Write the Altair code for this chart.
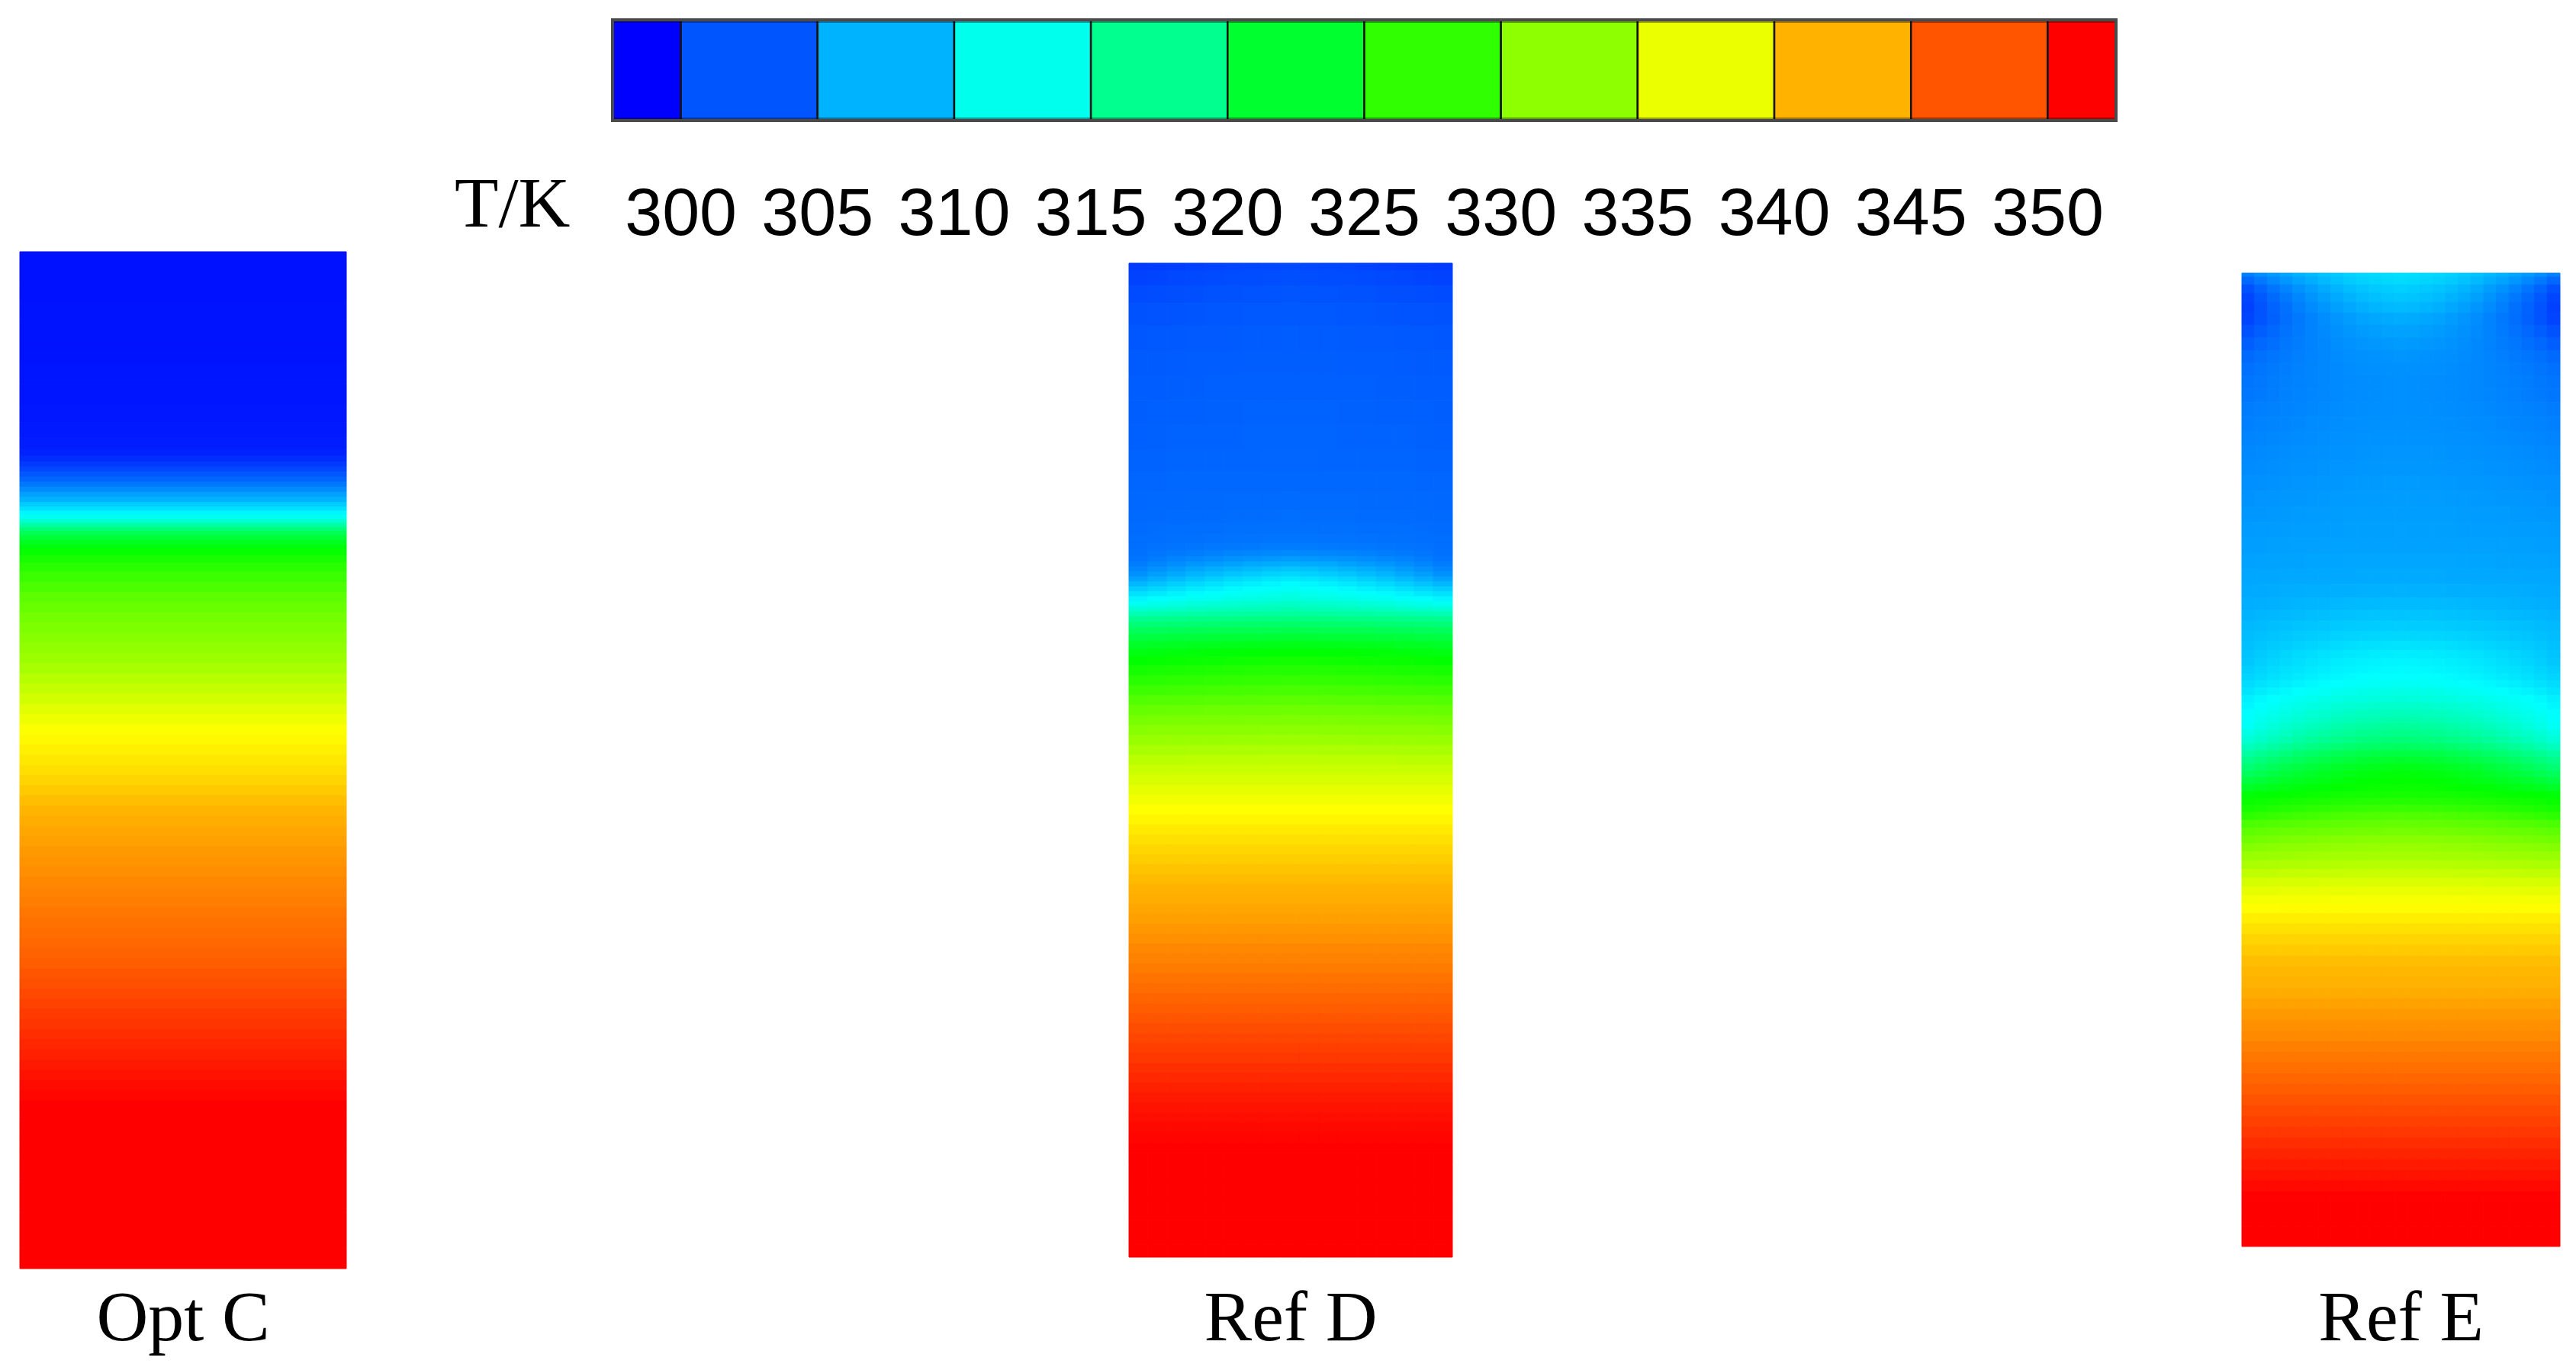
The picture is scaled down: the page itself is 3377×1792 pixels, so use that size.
import altair as alt
import pandas as pd

# ---------------- data ----------------
LEVELS = [300, 305, 310, 315, 320, 325, 330, 335, 340, 345, 350]
BAND_LO = [297.5, 300, 305, 310, 315, 320, 325, 330, 335, 340, 345, 350]
BAND_HI = [300, 305, 310, 315, 320, 325, 330, 335, 340, 345, 350, 352.5]
BAND_T = [297.5, 302.5, 307.5, 312.5, 317.5, 322.5, 327.5, 332.5, 337.5, 342.5, 347.5, 352.5]

COLOR_DOMAIN = [298, 311.5, 325, 338.5, 352]
COLOR_RANGE = ["#0000ff", "#00ffff", "#00ff00", "#ffff00", "#ff0000"]

PANEL_NAMES = ["Opt C", "Ref D", "Ref E"]

# Opt C : vertical temperature profile (fraction of height from top, T in K)
OPT_C_V = [0.000, 0.020, 0.040, 0.060, 0.080, 0.100, 0.120, 0.140, 0.160, 0.175,
           0.190, 0.198, 0.204, 0.209, 0.214, 0.219, 0.224, 0.229, 0.234, 0.239,
           0.244, 0.249, 0.253, 0.257, 0.261, 0.265, 0.269, 0.273, 0.277, 0.281,
           0.286, 0.291, 0.296, 0.302, 0.310, 0.320, 0.330, 0.340, 0.350, 0.360,
           0.370, 0.380, 0.390, 0.400, 0.410, 0.420, 0.430, 0.440, 0.450, 0.460,
           0.470, 0.480, 0.490, 0.500, 0.510, 0.520, 0.530, 0.540, 0.550, 0.560,
           0.570, 0.580, 0.590, 0.600, 0.610, 0.620, 0.630, 0.640, 0.650, 0.660,
           0.670, 0.680, 0.690, 0.700, 0.710, 0.720, 0.730, 0.740, 0.750, 0.760,
           0.770, 0.780, 0.790, 0.800, 0.810, 0.820, 0.830, 0.840, 0.850, 0.860,
           0.870, 0.880, 0.900, 0.930, 0.960, 1.000]
OPT_C_T = [298.9, 298.9, 298.9, 299.0, 299.0, 299.0, 299.1, 299.1, 299.2, 299.3,
           299.5, 299.8, 300.4, 301.0, 301.8, 302.6, 303.3, 304.3, 305.4, 306.5,
           307.5, 308.8, 309.9, 311.0, 312.3, 313.9, 316.3, 318.6, 320.4, 321.9,
           323.3, 324.5, 325.4, 326.2, 327.2, 328.1, 329.0, 329.9, 330.5, 331.1,
           331.6, 332.2, 332.7, 333.2, 333.9, 334.6, 335.3, 336.1, 336.9, 337.6,
           338.3, 338.8, 339.3, 339.7, 340.2, 340.7, 341.3, 341.9, 342.4, 342.8,
           343.2, 343.5, 343.9, 344.2, 344.5, 344.8, 345.1, 345.4, 345.7, 346.0,
           346.3, 346.5, 346.8, 347.1, 347.5, 347.8, 348.2, 348.5, 348.9, 349.2,
           349.6, 350.0, 350.3, 350.7, 351.0, 351.4, 351.7, 352.0, 352.3, 352.5,
           352.7, 352.9, 353.1, 353.3, 353.4, 353.5]
OPT_C_WEIGHT = [0.0]

# Ref D : centre-line and side-wall profiles
REF_D_V = [0.000, 0.015, 0.030, 0.050, 0.075, 0.100, 0.125, 0.150, 0.175, 0.200,
           0.220, 0.240, 0.255, 0.268, 0.278, 0.286, 0.292, 0.298, 0.303, 0.308,
           0.313, 0.318, 0.323, 0.328, 0.333, 0.338, 0.343, 0.348, 0.353, 0.358,
           0.364, 0.370, 0.377, 0.384, 0.392, 0.400, 0.410, 0.420, 0.430, 0.440,
           0.450, 0.460, 0.470, 0.480, 0.490, 0.500, 0.510, 0.520, 0.530, 0.540,
           0.550, 0.560, 0.570, 0.580, 0.590, 0.600, 0.610, 0.620, 0.630, 0.640,
           0.650, 0.660, 0.670, 0.680, 0.690, 0.700, 0.710, 0.720, 0.730, 0.740,
           0.750, 0.760, 0.770, 0.780, 0.790, 0.800, 0.810, 0.820, 0.830, 0.840,
           0.850, 0.860, 0.870, 0.880, 0.890, 0.900, 0.915, 0.930, 0.950, 0.975,
           1.000]
REF_D_T_CENTER = [301.9, 302.2, 302.5, 302.7, 302.9, 303.0, 303.1, 303.2, 303.3, 303.4,
                  303.5, 303.7, 303.8, 304.0, 304.2, 304.6, 305.3, 306.3, 307.3, 308.4,
                  309.4, 310.4, 311.3, 312.0, 312.7, 313.4, 314.4, 315.5, 316.7, 318.2,
                  319.6, 321.0, 322.4, 323.8, 325.0, 326.0, 326.9, 327.8, 328.8, 329.8,
                  330.8, 331.6, 332.4, 333.2, 334.1, 335.0, 335.7, 336.4, 337.1, 337.8,
                  338.5, 339.0, 339.6, 340.1, 340.6, 341.1, 341.6, 342.1, 342.5, 342.8,
                  343.2, 343.6, 344.0, 344.4, 344.8, 345.1, 345.5, 345.9, 346.3, 346.7,
                  347.1, 347.5, 347.9, 348.3, 348.7, 349.1, 349.5, 349.9, 350.3, 350.7,
                  351.0, 351.3, 351.6, 351.8, 352.0, 352.2, 352.4, 352.6, 352.8, 352.9,
                  353.0]
REF_D_T_EDGE = [301.0, 301.5, 301.9, 302.3, 302.6, 302.8, 302.9, 303.0, 303.1, 303.2,
                303.4, 303.5, 303.6, 303.7, 303.8, 303.9, 304.0, 304.2, 304.6, 305.1,
                305.7, 306.6, 307.7, 308.8, 309.9, 311.0, 312.2, 313.8, 315.6, 317.3,
                318.8, 320.2, 321.6, 322.9, 324.1, 325.1, 326.1, 327.1, 328.2, 329.3,
                330.4, 331.3, 332.2, 333.0, 333.9, 334.8, 335.7, 336.4, 337.1, 337.8,
                338.5, 339.0, 339.6, 340.1, 340.6, 341.1, 341.6, 342.1, 342.5, 342.8,
                343.2, 343.6, 344.0, 344.4, 344.8, 345.1, 345.5, 345.9, 346.3, 346.7,
                347.1, 347.5, 347.9, 348.3, 348.7, 349.1, 349.5, 349.9, 350.3, 350.7,
                351.0, 351.3, 351.6, 351.8, 352.0, 352.2, 352.4, 352.6, 352.8, 352.9,
                353.0]
REF_D_WEIGHT = [1.0, 0.82, 0.66, 0.51, 0.38, 0.26, 0.16, 0.07, 0.0,
                0.07, 0.16, 0.26, 0.38, 0.51, 0.66, 0.82, 1.0]

# Ref E : centre-line and side-wall profiles
REF_E_V = [0.000, 0.008, 0.016, 0.025, 0.035, 0.047, 0.060, 0.073, 0.086, 0.099,
           0.112, 0.125, 0.140, 0.155, 0.170, 0.185, 0.200, 0.216, 0.232, 0.248,
           0.264, 0.280, 0.296, 0.312, 0.327, 0.340, 0.352, 0.363, 0.373, 0.383,
           0.392, 0.400, 0.408, 0.415, 0.422, 0.430, 0.438, 0.445, 0.452, 0.459,
           0.466, 0.473, 0.480, 0.487, 0.494, 0.501, 0.508, 0.515, 0.522, 0.529,
           0.536, 0.543, 0.550, 0.558, 0.566, 0.574, 0.582, 0.590, 0.599, 0.608,
           0.617, 0.626, 0.635, 0.644, 0.653, 0.663, 0.674, 0.685, 0.696, 0.707,
           0.718, 0.729, 0.740, 0.751, 0.762, 0.773, 0.784, 0.795, 0.806, 0.817,
           0.828, 0.839, 0.850, 0.861, 0.872, 0.883, 0.894, 0.905, 0.916, 0.927,
           0.938, 0.949, 0.960, 0.972, 0.986, 1.000]
REF_E_T_CENTER = [309.8, 309.6, 309.0, 308.5, 307.9, 307.1, 306.6, 306.2, 305.9, 305.7,
                  305.6, 305.6, 305.6, 305.7, 305.8, 305.9, 306.0, 306.2, 306.3, 306.4,
                  306.5, 306.6, 306.8, 307.0, 307.4, 307.9, 308.4, 308.9, 309.4, 310.0,
                  310.6, 311.0, 311.3, 311.6, 312.1, 312.8, 313.5, 314.3, 315.1, 315.9,
                  316.9, 317.8, 318.7, 320.0, 321.6, 322.8, 323.9, 324.6, 325.1, 325.6,
                  326.1, 326.9, 328.0, 329.3, 330.3, 331.2, 332.2, 333.0, 333.7, 334.6,
                  335.6, 336.6, 337.4, 338.1, 338.7, 339.4, 340.1, 340.7, 341.3, 341.9,
                  342.3, 342.6, 342.9, 343.4, 343.9, 344.3, 344.7, 345.2, 345.7, 346.1,
                  346.6, 347.1, 347.6, 348.1, 348.6, 349.1, 349.6, 350.1, 350.6, 351.0,
                  351.5, 351.9, 352.2, 352.5, 352.7, 352.8]
REF_E_T_EDGE = [304.8, 303.5, 302.3, 301.7, 301.4, 301.6, 302.3, 303.0, 303.6, 304.0,
                304.2, 304.3, 304.6, 304.8, 305.0, 305.2, 305.4, 305.6, 305.8, 306.0,
                306.2, 306.4, 306.6, 306.8, 307.0, 307.2, 307.5, 307.8, 308.0, 308.2,
                308.4, 308.6, 308.9, 309.2, 309.6, 310.1, 310.7, 311.1, 311.4, 311.7,
                312.1, 312.9, 313.8, 315.0, 316.5, 317.8, 318.9, 320.2, 321.6, 323.0,
                324.6, 325.4, 326.1, 327.3, 328.9, 330.0, 330.9, 332.0, 333.0, 334.0,
                335.1, 336.2, 337.1, 337.9, 338.6, 339.4, 340.1, 340.7, 341.3, 341.9,
                342.3, 342.6, 342.9, 343.4, 343.9, 344.3, 344.7, 345.2, 345.7, 346.1,
                346.6, 347.1, 347.6, 348.1, 348.6, 349.1, 349.6, 350.1, 350.6, 351.0,
                351.5, 351.9, 352.2, 352.5, 352.7, 352.8]
REF_E_WEIGHT = [1.0, 0.85, 0.72, 0.60, 0.49, 0.39, 0.30, 0.22, 0.15, 0.09, 0.05, 0.02, 0.0,
                0.02, 0.05, 0.09, 0.15, 0.22, 0.30, 0.39, 0.49, 0.60, 0.72, 0.85, 1.0]

# ---------------- layout (page pixels) ----------------
MARGIN = 8
W, H = 3377 - 2 * MARGIN, 1792 - 2 * MARGIN
LAYOUT = {
    "colorbar": (803, 2774, 26, 158),
    "Opt C": (26, 454, 330, 1663),
    "Ref D": (1480, 1904, 345, 1648),
    "Ref E": (2939, 3356, 358, 1634),
}
TICK_BASELINE = 308
LABEL_BASELINE = 1757
TK_POS = (596, 297)
SERIF = "Liberation Serif"
SANS = "Liberation Sans"

color_scale = alt.Scale(domain=COLOR_DOMAIN, range=COLOR_RANGE,
                        interpolate="rgb", clamp=True)


def field_table(v, t_center, t_edge, weights):
    assert len(v) == len(t_center) == len(t_edge)
    n = len(v)
    bounds = [0.0] + [(v[i] + v[i + 1]) / 2 for i in range(n - 1)] + [1.0]
    ncol = len(weights)
    rows = []
    for j, w in enumerate(weights):
        for i in range(n):
            rows.append({
                "u0": j / ncol, "u1": (j + 1) / ncol,
                "v0": bounds[i], "v1": bounds[i + 1],
                "T": (1 - w) * t_center[i] + w * t_edge[i],
            })
    return pd.DataFrame(rows)


def scales(name):
    x0, x1, y0, y1 = LAYOUT[name]
    xs = alt.Scale(domain=[0, 1], range=[x0 - MARGIN, x1 - MARGIN], nice=False, zero=False)
    ys = alt.Scale(domain=[0, 1], range=[y0 - MARGIN, y1 - MARGIN], nice=False, zero=False)
    return xs, ys


def panel(df, name):
    xs, ys = scales(name)
    cells = alt.Chart(df).mark_rect(strokeWidth=1).encode(
        x=alt.X("u0:Q", scale=xs, axis=None), x2="u1:Q",
        y=alt.Y("v0:Q", scale=ys, axis=None), y2="v1:Q",
        color=alt.Color("T:Q", scale=color_scale, legend=None),
        stroke=alt.Stroke("T:Q", scale=color_scale, legend=None),
    )
    label = alt.Chart(pd.DataFrame({"name": [name], "u": [0.5]})).mark_text(
        font=SERIF, fontSize=94, align="center", baseline="alphabetic", color="black"
    ).encode(
        x=alt.X("u:Q", scale=xs, axis=None),
        y=alt.value(LABEL_BASELINE - MARGIN),
        text="name:N",
    )
    return alt.layer(cells, label)


# ---------------- colour bar ----------------
cx0, cx1, cy0, cy1 = LAYOUT["colorbar"]
cb_x = alt.Scale(domain=[BAND_LO[0], BAND_HI[-1]], range=[cx0 - MARGIN, cx1 - MARGIN],
                 nice=False, zero=False)
cb_y = alt.Scale(domain=[0, 1], range=[cy0 - MARGIN, cy1 - MARGIN], nice=False, zero=False)

bands_df = pd.DataFrame({"lo": BAND_LO, "hi": BAND_HI, "T": BAND_T, "b0": 0.0, "b1": 1.0})
bands = alt.Chart(bands_df).mark_rect(stroke="#141414", strokeWidth=2.5).encode(
    x=alt.X("lo:Q", scale=cb_x, axis=None), x2="hi:Q",
    y=alt.Y("b0:Q", scale=cb_y, axis=None), y2="b1:Q",
    color=alt.Color("T:Q", scale=color_scale, legend=None),
)
edge_df = pd.DataFrame({"lo": [BAND_LO[0], BAND_LO[0]], "hi": [BAND_HI[-1], BAND_HI[-1]],
                        "b0": [0.0, 0.97], "b1": [0.03, 1.0]})
edges = alt.Chart(edge_df).mark_rect(color="black", opacity=0.35).encode(
    x=alt.X("lo:Q", scale=cb_x, axis=None), x2="hi:Q",
    y=alt.Y("b0:Q", scale=cb_y, axis=None), y2="b1:Q",
)
frame = alt.Chart(pd.DataFrame({"lo": [BAND_LO[0]], "hi": [BAND_HI[-1]], "b0": [0.0], "b1": [1.0]})).mark_rect(
    filled=False, stroke="#4a4a4a", strokeWidth=4
).encode(
    x=alt.X("lo:Q", scale=cb_x, axis=None), x2="hi:Q",
    y=alt.Y("b0:Q", scale=cb_y, axis=None), y2="b1:Q",
)
ticks_df = pd.DataFrame({"T": LEVELS, "label": [str(v) for v in LEVELS]})
tick_labels = alt.Chart(ticks_df).mark_text(
    font=SANS, fontSize=88, align="center", baseline="alphabetic", color="black"
).encode(
    x=alt.X("T:Q", scale=cb_x, axis=None),
    y=alt.value(TICK_BASELINE - MARGIN),
    text="label:N",
)
colorbar = alt.layer(bands, edges, frame, tick_labels)

unit = alt.Chart(pd.DataFrame({"t": ["T/K"]})).mark_text(
    font=SERIF, fontSize=94, align="left", baseline="alphabetic", color="black"
).encode(
    x=alt.value(TK_POS[0] - MARGIN),
    y=alt.value(TK_POS[1] - MARGIN),
    text="t:N",
)

p_c = panel(field_table(OPT_C_V, OPT_C_T, OPT_C_T, OPT_C_WEIGHT), "Opt C")
p_d = panel(field_table(REF_D_V, REF_D_T_CENTER, REF_D_T_EDGE, REF_D_WEIGHT), "Ref D")
p_e = panel(field_table(REF_E_V, REF_E_T_CENTER, REF_E_T_EDGE, REF_E_WEIGHT), "Ref E")

chart = alt.layer(colorbar, p_c, p_d, p_e, unit).resolve_scale(
    x="independent", y="independent"
).properties(
    width=W, height=H, padding=0, autosize=alt.AutoSizeParams(type="none"),
    background="white",
).configure_view(stroke=None)

chart.save("out.html", embed_options={"renderer": "svg", "actions": False})
